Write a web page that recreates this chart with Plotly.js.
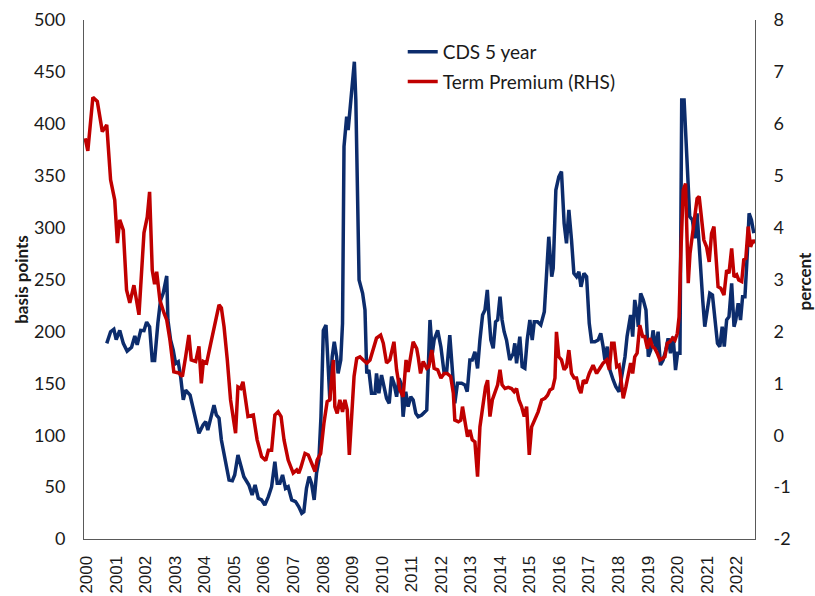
<!DOCTYPE html>
<html>
<head>
<meta charset="utf-8">
<script src="https://cdn.plot.ly/plotly-3.0.1.min.js"></script>
<style>html,body{margin:0;padding:0;background:#fff;}#chart{width:815px;height:596px;}</style>
</head>
<body>
<div id="chart"></div>
<script>
// Term premium (percent, RHS), decimal-year dates
var tpDates = [1999.95,2000.04,2000.21,2000.36,2000.53,2000.68,2000.81,2000.95,2001.04,2001.12,2001.24,2001.35,2001.46,2001.60,2001.77,2001.88,2001.94,2002.05,2002.13,2002.22,2002.30,2002.37,2002.48,2002.62,2002.71,2002.82,2002.95,2003.12,2003.24,2003.35,2003.46,2003.54,2003.69,2003.80,2003.88,2003.95,2004.06,2004.20,2004.37,2004.48,2004.56,2004.65,2004.76,2004.87,2005.04,2005.12,2005.21,2005.29,2005.38,2005.46,2005.64,2005.77,2005.92,2006.06,2006.15,2006.26,2006.37,2006.48,2006.58,2006.68,2006.82,2006.99,2007.11,2007.18,2007.25,2007.39,2007.50,2007.61,2007.73,2007.80,2007.92,2008.03,2008.14,2008.23,2008.35,2008.40,2008.48,2008.57,2008.66,2008.74,2008.82,2008.89,2008.97,2009.05,2009.14,2009.25,2009.36,2009.48,2009.59,2009.70,2009.81,2009.95,2010.04,2010.15,2010.26,2010.40,2010.49,2010.60,2010.71,2010.81,2010.88,2011.05,2011.17,2011.22,2011.30,2011.39,2011.51,2011.58,2011.68,2011.76,2011.88,2011.99,2012.10,2012.20,2012.32,2012.41,2012.46,2012.58,2012.66,2012.72,2012.80,2012.89,2012.97,2013.05,2013.14,2013.23,2013.31,2013.40,2013.50,2013.57,2013.65,2013.73,2013.82,2013.91,2013.99,2014.06,2014.16,2014.27,2014.38,2014.47,2014.55,2014.63,2014.72,2014.81,2014.89,2014.98,2015.06,2015.17,2015.28,2015.40,2015.51,2015.60,2015.68,2015.77,2015.85,2015.90,2015.98,2016.07,2016.16,2016.24,2016.32,2016.41,2016.50,2016.58,2016.66,2016.73,2016.81,2016.90,2017.01,2017.14,2017.26,2017.37,2017.48,2017.60,2017.69,2017.77,2017.85,2017.94,2018.02,2018.10,2018.16,2018.25,2018.33,2018.41,2018.48,2018.55,2018.63,2018.72,2018.82,2018.89,2018.98,2019.06,2019.15,2019.23,2019.31,2019.40,2019.49,2019.57,2019.65,2019.74,2019.83,2019.91,2019.99,2020.05,2020.11,2020.19,2020.27,2020.36,2020.42,2020.51,2020.59,2020.66,2020.73,2020.81,2020.89,2020.98,2021.07,2021.15,2021.23,2021.30,2021.37,2021.46,2021.57,2021.66,2021.74,2021.83,2021.91,2022.00,2022.07,2022.17,2022.24,2022.31,2022.39,2022.47,2022.56,2022.62];
var tpValues = [5.72,5.48,6.51,6.43,5.85,5.98,4.92,4.53,3.70,4.15,3.95,2.80,2.55,2.89,2.32,3.32,3.90,4.20,4.69,3.18,2.91,3.15,2.60,2.35,2.22,1.83,1.22,1.20,1.13,1.51,1.93,1.45,1.42,1.71,1.00,1.42,1.39,1.77,2.22,2.51,2.45,2.09,1.45,0.68,0.04,0.93,0.90,1.03,0.68,0.36,0.39,-0.09,-0.41,-0.49,-0.29,-0.29,0.39,0.45,0.36,-0.09,-0.48,-0.73,-0.67,-0.73,-0.62,-0.35,-0.38,-0.54,-0.70,-0.48,-0.35,0.23,0.65,0.68,1.45,0.55,0.42,0.68,0.45,0.68,0.49,-0.38,0.36,1.13,1.48,1.51,1.45,1.39,1.45,1.64,1.87,1.93,1.77,1.39,1.45,1.80,1.26,0.87,0.74,1.45,1.22,1.80,1.67,1.51,1.19,1.42,1.29,1.32,1.64,1.29,1.26,1.10,1.19,1.19,1.13,0.81,0.29,0.26,0.29,0.55,0.29,-0.03,0.10,-0.09,-0.13,-0.80,0.16,0.55,0.93,1.06,0.36,0.68,0.81,0.97,1.26,0.97,0.90,0.92,0.90,0.84,0.90,0.68,0.55,0.36,0.55,-0.38,0.16,0.29,0.45,0.68,0.71,0.77,0.87,0.90,1.10,1.99,1.51,1.45,1.26,1.32,1.64,1.19,1.10,1.10,0.90,0.81,1.06,1.00,1.19,1.35,1.19,1.29,1.39,1.45,1.26,1.77,1.77,1.32,1.35,1.00,0.71,0.93,1.19,1.39,1.19,1.51,1.58,2.12,1.90,1.90,1.67,1.87,1.71,1.67,1.58,1.45,1.48,1.51,1.77,1.80,1.87,1.83,1.96,2.28,3.50,4.72,4.85,2.93,3.50,3.89,4.14,4.56,4.60,4.14,3.76,3.63,3.34,3.89,4.02,3.44,2.86,2.83,2.70,3.18,3.12,3.60,3.05,3.09,2.99,2.96,3.38,3.41,4.02,3.63,3.76,3.70];

// CDS 5 year (basis points, LHS)
var cdsDates = [2000.68,2000.81,2000.92,2001.00,2001.12,2001.24,2001.37,2001.52,2001.63,2001.71,2001.83,2001.94,2002.03,2002.13,2002.22,2002.30,2002.41,2002.50,2002.59,2002.71,2002.75,2002.84,2002.93,2003.01,2003.10,2003.18,2003.27,2003.35,2003.50,2003.63,2003.80,2003.94,2004.03,2004.10,2004.22,2004.31,2004.39,2004.48,2004.56,2004.67,2004.82,2004.93,2005.01,2005.12,2005.21,2005.32,2005.49,2005.60,2005.70,2005.81,2005.92,2006.03,2006.15,2006.26,2006.37,2006.45,2006.54,2006.63,2006.73,2006.82,2006.94,2007.07,2007.18,2007.28,2007.35,2007.44,2007.53,2007.61,2007.70,2007.78,2007.86,2007.93,2008.01,2008.10,2008.18,2008.23,2008.31,2008.38,2008.46,2008.51,2008.60,2008.66,2008.71,2008.80,2008.85,2008.93,2009.06,2009.11,2009.17,2009.22,2009.34,2009.42,2009.48,2009.55,2009.64,2009.76,2009.81,2009.89,2009.98,2010.07,2010.15,2010.24,2010.32,2010.40,2010.49,2010.57,2010.66,2010.71,2010.80,2010.88,2010.97,2011.05,2011.14,2011.22,2011.34,2011.51,2011.62,2011.70,2011.76,2011.88,2011.99,2012.10,2012.18,2012.29,2012.37,2012.46,2012.55,2012.69,2012.80,2012.88,2012.97,2013.05,2013.14,2013.23,2013.31,2013.40,2013.48,2013.56,2013.61,2013.68,2013.76,2013.84,2013.91,2013.99,2014.06,2014.13,2014.21,2014.32,2014.44,2014.49,2014.55,2014.66,2014.74,2014.83,2014.91,2015.00,2015.08,2015.15,2015.26,2015.37,2015.49,2015.57,2015.64,2015.74,2015.79,2015.88,2015.98,2016.07,2016.16,2016.24,2016.32,2016.41,2016.49,2016.58,2016.66,2016.73,2016.83,2016.92,2017.01,2017.09,2017.20,2017.31,2017.40,2017.48,2017.54,2017.62,2017.71,2017.82,2017.91,2018.02,2018.10,2018.22,2018.29,2018.41,2018.48,2018.55,2018.63,2018.67,2018.75,2018.84,2018.93,2019.01,2019.09,2019.17,2019.27,2019.34,2019.42,2019.51,2019.60,2019.68,2019.76,2019.85,2019.93,2020.00,2020.08,2020.14,2020.22,2020.32,2020.41,2020.50,2020.59,2020.66,2020.75,2020.85,2020.92,2021.00,2021.09,2021.18,2021.26,2021.35,2021.43,2021.51,2021.58,2021.66,2021.74,2021.83,2021.91,2021.97,2022.05,2022.13,2022.20,2022.28,2022.36,2022.42,2022.50,2022.58];
var cdsValues = [188.5,199.7,202,192,201,188.5,181,184.7,195.6,187,201,200.7,209,204.5,172,172,207.8,230,236.7,253.4,211,191.7,182,169,170.8,156.4,134,143.5,138.7,121,101.8,109.8,113,105,117.8,129,119.5,116.3,95.4,79.3,56.8,56.2,61.7,81,71.3,60,52,42.4,52,39.2,37.6,32.8,40.8,50.4,74.5,53.7,53.7,61.7,48.8,50.4,37.6,36,31.1,24.8,26.3,48.8,60,53.7,37.6,63.3,76.1,117.8,201,206,162.8,134,175.6,190,175.6,159.6,172.4,207.8,378,406.8,394,419.7,459.8,423,326.6,249.5,236.7,220.6,159.6,162.8,140.4,140.4,159.6,140.4,158,146.7,135.5,130.7,156.4,150,137.1,154.8,148.4,117.8,141.9,127.5,137.1,134,121,117.8,119.5,124.3,211,179,191.7,201,185,159.6,159.6,196.5,166,130.7,150,150,148.4,141.9,172.4,172.4,180.4,164.4,191.7,215.8,220.6,239.9,217.4,191.7,183.7,209.3,211,233.4,211,199.7,191.7,172.4,179,188.5,169.3,195,166,164.4,191.7,211,191.7,209.3,209.3,206.2,219,256,291.2,252.7,260.8,336.2,349,353.9,304.1,284.9,317,288,256,252.7,257.5,243,256,252.7,207.8,190,190,191.7,198.2,185.3,172.4,185.3,162.8,153.2,146.7,141.9,156.4,175.6,195,215.8,195,230.3,217.4,204.5,236.7,230.3,220.6,175.6,182,201,182,199.7,167.6,172.4,182,193.3,178.9,195,162.8,178.9,178.9,423,423,362,310.5,307.3,289.7,313.8,268.8,230.3,204.5,220.6,236.7,235,211,188.5,185.3,204.5,185.3,211,214.2,246.3,204.5,211,227,211,233.4,233.4,275.2,313.8,307.3,294.5];

var yearTicks = [2000,2001,2002,2003,2004,2005,2006,2007,2008,2009,2010,2011,2012,2013,2014,2015,2016,2017,2018,2019,2020,2021,2022];
var yearLabels = yearTicks.map(String);
var pctTicks = [-2,-1,0,1,2,3,4,5,6,7,8];
var pctLabels = ["-2","-1","0","1","2","3","4","5","6","7","8"];
var seriesNames = ["CDS 5 year", "Term Premium (RHS)"];

var traces = [
  {x: cdsDates, y: cdsValues, name: seriesNames[0], type: 'scatter', mode: 'lines',
   line: {color: '#0c2c6c', width: 3.5}, yaxis: 'y', legendgroup: 'a'},
  {x: tpDates, y: tpValues, name: seriesNames[1], type: 'scatter', mode: 'lines',
   line: {color: '#c00000', width: 3.5}, yaxis: 'y2', legendgroup: 'b'}
];

var layout = {
  width: 815, height: 596,
  margin: {l: 84, r: 60, t: 20, b: 57},
  paper_bgcolor: '#fff', plot_bgcolor: '#fff',
  showlegend: true,
  legend: {x: 0.475, y: 0.975, xanchor: 'left', yanchor: 'top',
           font: {family: 'Lato', size: 19, color: '#1a1a1a'},
           bgcolor: 'rgba(0,0,0,0)', tracegroupgap: 2, itemwidth: 30},
  xaxis: {range: [1999.91, 2022.62], tickmode: 'array', tickvals: yearTicks, ticktext: yearLabels,
          tickangle: -90, showgrid: false, zeroline: false, showline: true,
          linecolor: '#595959', linewidth: 1, ticks: '', ticklabelstandoff: 9,
          tickfont: {family: 'Liberation Sans, Arial', size: 17, color: '#1a1a1a'}},
  yaxis: {range: [0, 500], dtick: 50, showgrid: false, zeroline: false, showline: true,
          linecolor: '#595959', linewidth: 1, ticks: '', ticklabelstandoff: 14,
          tickfont: {family: 'Lato', size: 18, color: '#1a1a1a'},
          title: {text: 'basis points', font: {family: 'Lato', size: 17, color: '#1a1a1a', weight: 'bold'}}},
  yaxis2: {range: [-2, 8], tickmode: 'array', tickvals: pctTicks, ticktext: pctLabels,
           overlaying: 'y', side: 'right', showgrid: false, zeroline: false,
           showline: true, linecolor: '#595959', linewidth: 1, ticks: '', ticklabelstandoff: 14,
           tickfont: {family: 'Lato', size: 18, color: '#1a1a1a'}},
  annotations: [{text: 'percent', xref: 'paper', yref: 'paper', x: 1.0735, y: 0.497,
                 xanchor: 'center', yanchor: 'middle', textangle: -90, showarrow: false,
                 font: {family: 'Lato', size: 17, color: '#1a1a1a', weight: 'bold'}}]
};

Plotly.newPlot('chart', traces, layout, {displayModeBar: false, staticPlot: true});
</script>
</body>
</html>
